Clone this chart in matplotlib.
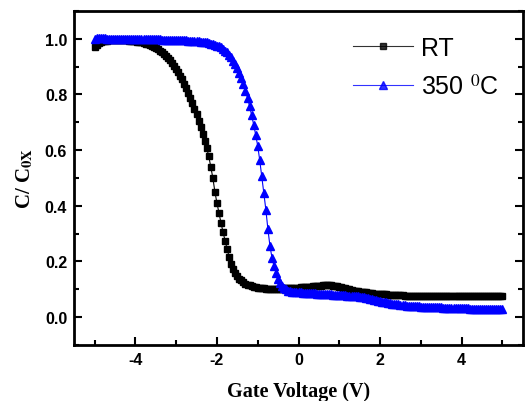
import numpy as np
import matplotlib
matplotlib.use('Agg')
import matplotlib.pyplot as plt
from matplotlib.ticker import MultipleLocator

plt.rcParams['mathtext.fontset'] = 'stix'
plt.rcParams['axes.unicode_minus'] = False

# gate sweep: -5 V to +5 V in 50 mV steps
gate_v = np.round(np.linspace(-5.0, 5.0, 201), 2)

# normalised capacitance, room temperature
c_rt = [
    0.972, 0.978, 0.984, 0.988, 0.991, 0.993, 0.994, 0.995, 0.996, 0.996,
    0.997, 0.997, 0.997, 0.996, 0.996, 0.995, 0.995, 0.994, 0.993, 0.992,
    0.991, 0.990, 0.989, 0.987, 0.985, 0.983, 0.981, 0.978, 0.975, 0.972,
    0.968, 0.963, 0.958, 0.952, 0.946, 0.939, 0.931, 0.923, 0.914, 0.904,
    0.893, 0.881, 0.868, 0.854, 0.839, 0.823, 0.806, 0.788, 0.769, 0.749,
    0.728, 0.706, 0.683, 0.659, 0.634, 0.607, 0.578, 0.540, 0.500, 0.450,
    0.410, 0.373, 0.338, 0.305, 0.274, 0.244, 0.216, 0.192, 0.173, 0.158,
    0.147, 0.138, 0.131, 0.125, 0.120, 0.116, 0.113, 0.110, 0.108, 0.106,
    0.105, 0.104, 0.103, 0.103, 0.102, 0.102, 0.102, 0.102, 0.102, 0.102,
    0.102, 0.102, 0.102, 0.103, 0.103, 0.103, 0.104, 0.104, 0.104, 0.105,
    0.105, 0.106, 0.106, 0.107, 0.107, 0.108, 0.109, 0.110, 0.110, 0.111,
    0.112, 0.112, 0.113, 0.113, 0.113, 0.113, 0.113, 0.112, 0.112, 0.111,
    0.109, 0.107, 0.105, 0.103, 0.101, 0.099, 0.097, 0.095, 0.094, 0.092,
    0.091, 0.090, 0.089, 0.088, 0.087, 0.086, 0.085, 0.084, 0.084, 0.083,
    0.082, 0.082, 0.081, 0.081, 0.080, 0.080, 0.079, 0.079, 0.078, 0.078,
    0.078, 0.078, 0.077, 0.077, 0.077, 0.077, 0.077, 0.077, 0.077, 0.077,
    0.077, 0.077, 0.077, 0.076, 0.076, 0.076, 0.076, 0.076, 0.076, 0.076,
    0.076, 0.076, 0.076, 0.076, 0.076, 0.076, 0.076, 0.076, 0.076, 0.076,
    0.076, 0.075, 0.075, 0.075, 0.075, 0.075, 0.075, 0.075, 0.075, 0.075,
    0.075, 0.075, 0.075, 0.075, 0.075, 0.075, 0.075, 0.075, 0.075, 0.075,
    0.075,
]

# normalised capacitance after 350 C anneal
c_350 = [
    0.998, 1.003, 1.004, 1.003, 1.002, 1.002, 1.001, 1.001, 1.001, 1.000,
    1.000, 1.000, 1.000, 1.000, 1.000, 1.000, 1.000, 1.000, 0.999, 0.999,
    0.999, 0.999, 0.999, 0.999, 0.999, 0.999, 0.998, 0.998, 0.998, 0.998,
    0.998, 0.998, 0.998, 0.997, 0.997, 0.997, 0.997, 0.997, 0.997, 0.996,
    0.996, 0.996, 0.996, 0.995, 0.995, 0.995, 0.994, 0.994, 0.993, 0.993,
    0.992, 0.991, 0.990, 0.989, 0.988, 0.987, 0.985, 0.983, 0.981, 0.979,
    0.976, 0.973, 0.969, 0.964, 0.958, 0.951, 0.943, 0.933, 0.922, 0.909,
    0.894, 0.877, 0.858, 0.837, 0.813, 0.787, 0.758, 0.726, 0.692, 0.655,
    0.615, 0.563, 0.505, 0.445, 0.385, 0.315, 0.255, 0.213, 0.182, 0.158,
    0.138, 0.123, 0.112, 0.104, 0.099, 0.095, 0.093, 0.091, 0.090, 0.089,
    0.088, 0.088, 0.087, 0.087, 0.086, 0.086, 0.085, 0.085, 0.085, 0.084,
    0.083, 0.083, 0.082, 0.082, 0.082, 0.081, 0.081, 0.080, 0.080, 0.080,
    0.079, 0.079, 0.078, 0.078, 0.077, 0.077, 0.076, 0.076, 0.075, 0.074,
    0.073, 0.072, 0.070, 0.069, 0.067, 0.066, 0.064, 0.062, 0.060, 0.059,
    0.057, 0.055, 0.054, 0.052, 0.051, 0.050, 0.048, 0.047, 0.046, 0.045,
    0.044, 0.043, 0.042, 0.041, 0.041, 0.040, 0.039, 0.039, 0.038, 0.038,
    0.037, 0.037, 0.036, 0.036, 0.036, 0.035, 0.035, 0.035, 0.034, 0.034,
    0.034, 0.033, 0.033, 0.033, 0.033, 0.032, 0.032, 0.032, 0.032, 0.031,
    0.031, 0.031, 0.031, 0.031, 0.030, 0.030, 0.030, 0.030, 0.030, 0.029,
    0.029, 0.029, 0.029, 0.029, 0.028, 0.028, 0.028, 0.028, 0.028, 0.028,
    0.027,
]

x_ticks = [-4, -2, 0, 2, 4]
y_ticks = [0.0, 0.2, 0.4, 0.6, 0.8, 1.0]

fig = plt.figure(figsize=(5.26, 4.02), dpi=100)
ax = fig.add_axes([0.141, 0.14, 0.853, 0.83])

ax.plot(gate_v, c_rt, color='black', marker='s', markersize=4.8,
        linewidth=0.8, label='RT')
ax.plot(gate_v, c_350, color='#0000ff', marker='^', markersize=5.6,
        linewidth=0.8, label='350 $^{0}$C')

ax.set_xlim(-5.5, 5.5)
ax.set_ylim(-0.1, 1.1)
ax.set_xticks(x_ticks)
ax.set_yticks(y_ticks)
ax.xaxis.set_minor_locator(MultipleLocator(1))
ax.yaxis.set_minor_locator(MultipleLocator(0.1))
ax.yaxis.set_major_formatter(plt.FormatStrFormatter('%.1f'))

ax.tick_params(which='both', direction='in', top=False, right=True,
               width=1.5, labelsize=11.5, pad=5)
ax.tick_params(which='major', length=6)
ax.tick_params(which='minor', length=3.5)
for lbl in ax.get_xticklabels() + ax.get_yticklabels():
    lbl.set_fontfamily('Liberation Sans')
    lbl.set_fontweight('bold')
for sp in ax.spines.values():
    sp.set_linewidth(2)

ax.set_xlabel('Gate Voltage (V)', family='Liberation Serif',
              fontweight='bold', fontsize=14.5, labelpad=10)
ax.set_ylabel(r'C/ C$_{\mathbf{0X}}$', family='Liberation Serif',
              fontweight='bold', fontsize=15, labelpad=7)

leg = ax.legend(loc='upper left', bbox_to_anchor=(0.6, 0.955),
                frameon=False, handlelength=2.4, handletextpad=0.3,
                labelspacing=0.55, borderaxespad=0,
                prop={'family': 'Liberation Sans', 'size': 18})
for h in leg.legend_handles:
    h.set_alpha(0.8)

fig.savefig('out.png', dpi=100)
